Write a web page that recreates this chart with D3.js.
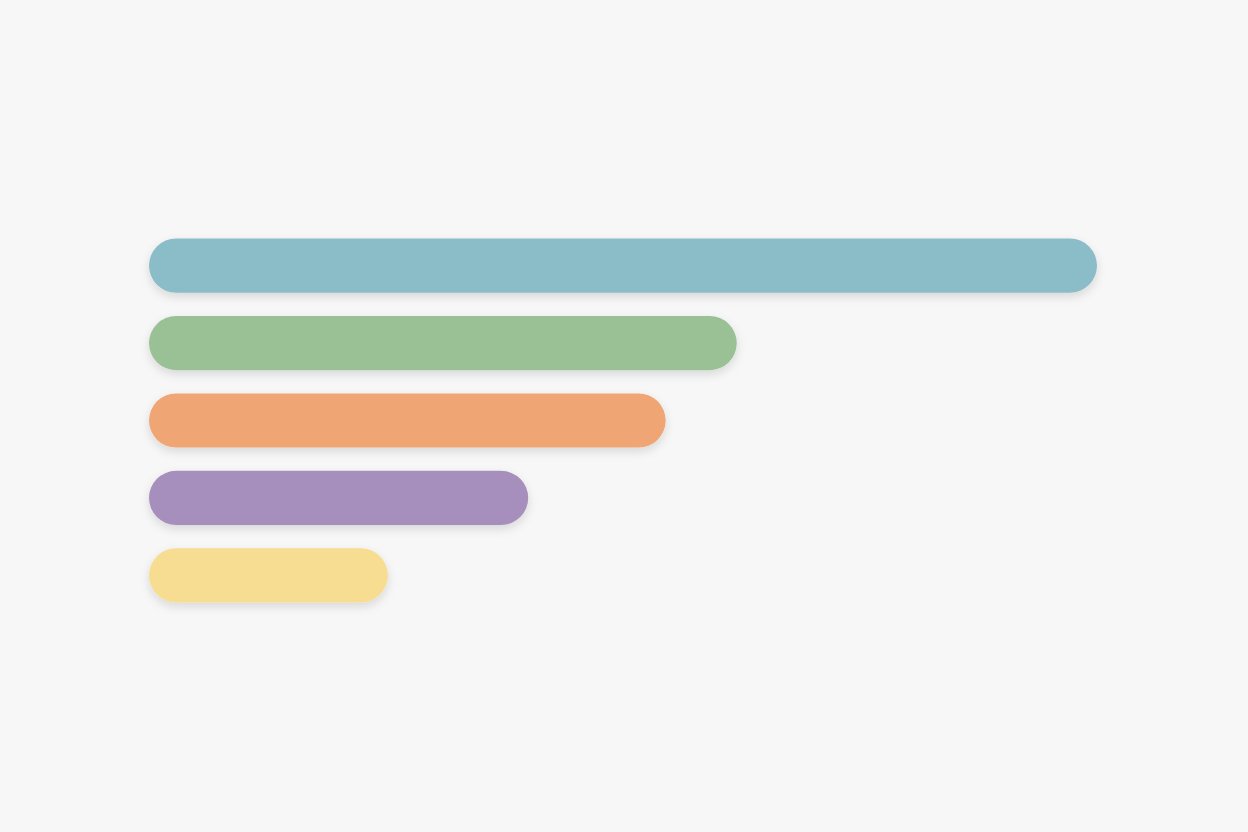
<!DOCTYPE html>
<html>
<head>
<meta charset="utf-8">
<script src="https://cdn.jsdelivr.net/npm/d3@7"></script>
<style>
  html, body { margin: 0; padding: 0; background: #f7f7f7; }
  svg { display: block; }
</style>
</head>
<body>
<svg id="chart" width="1248" height="832"></svg>
<script>
// categories + values (longest bar = 100)
const categories = ["A", "B", "C", "D", "E"];
const values = [100, 62, 54.5, 40, 25.2];
const colors = ["#8abdc8", "#9ac096", "#f0a574", "#a78fbd", "#f7dd91"];

const width = 1248, height = 832;
const margin = { top: 238.5, right: 151, bottom: 229.5, left: 149 };

const svg = d3.select("#chart");

svg.append("rect")
  .attr("width", width)
  .attr("height", height)
  .attr("fill", "#f7f7f7");

// soft drop shadow under each bar
const defs = svg.append("defs");
const shadow = defs.append("filter")
  .attr("id", "soft-shadow")
  .attr("x", "-10%").attr("y", "-40%")
  .attr("width", "120%").attr("height", "200%");
shadow.append("feDropShadow")
  .attr("dx", 0)
  .attr("dy", 4)
  .attr("stdDeviation", 5)
  .attr("flood-color", "#000")
  .attr("flood-opacity", 0.13);

const x = d3.scaleLinear()
  .domain([0, 100])
  .range([margin.left, width - margin.right]);

const y = d3.scaleBand()
  .domain(categories)
  .range([margin.top, height - margin.bottom])
  .paddingInner(0.3)
  .paddingOuter(0);

const data = categories.map((c, i) => ({ cat: c, value: values[i], color: colors[i] }));

svg.append("g")
  .selectAll("rect")
  .data(data)
  .join("rect")
  .attr("x", x(0))
  .attr("y", d => y(d.cat))
  .attr("width", d => x(d.value) - x(0))
  .attr("height", y.bandwidth())
  .attr("rx", y.bandwidth() / 2)
  .attr("ry", y.bandwidth() / 2)
  .attr("fill", d => d.color)
  .attr("filter", "url(#soft-shadow)");
</script>
</body>
</html>
